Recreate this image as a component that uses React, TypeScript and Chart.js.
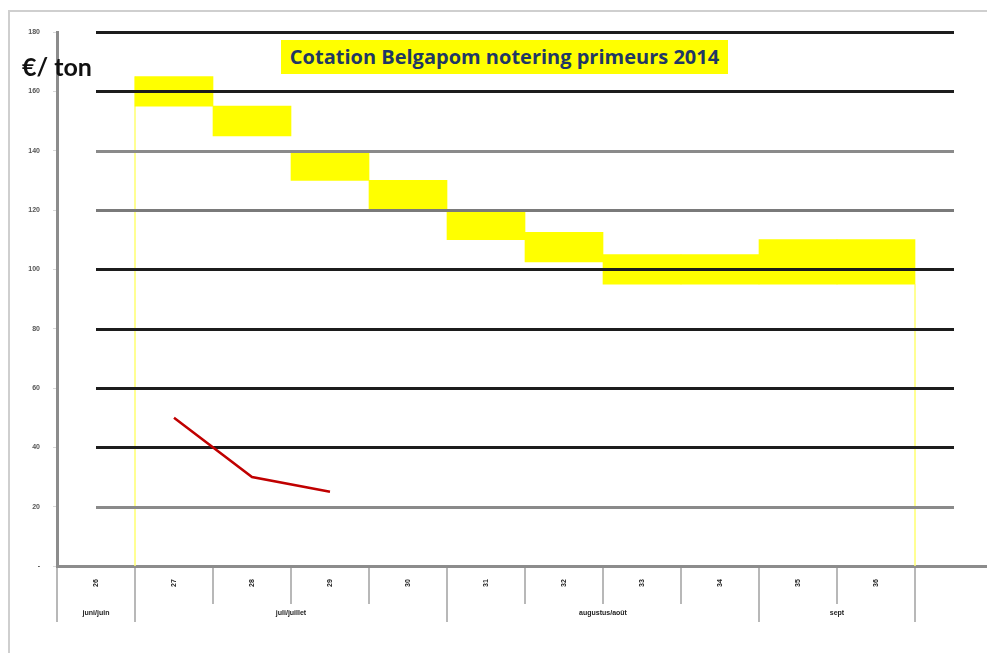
import React, { useEffect, useRef } from "react";
import { Chart, registerables } from "chart.js";

Chart.register(...registerables);

const weeks = ["26", "27", "28", "29", "30", "31", "32", "33", "34", "35", "36", ""];
const priceLow = [null, 155, 145, 130, 120, 110, 102.5, 95, 95, 95, 95, null];
const priceHigh = [null, 165, 155, 140, 130, 120, 112.5, 105, 105, 110, 110, null];
const redSeries = [null, 50, 30, 25, null, null, null, null, null, null, null, null];
const gridValues = [20, 40, 60, 80, 100, 120, 140, 160, 180];
const gridColors = ["#8a8a8a", "#1c1c1c", "#1c1c1c", "#1c1c1c", "#1c1c1c", "#7a7a7a", "#8a8a8a", "#1c1c1c", "#1c1c1c"];
const monthLabels = ["juni/juin", "juli/juillet", "augustus/août", "sept"];
const monthSpans = [1, 4, 4, 2];
const titleText = "Cotation Belgapom notering primeurs 2014";
const unitText = "€/ ton";

const FONT = "'Liberation Sans', Arial, sans-serif";

const customPlugin = {
  id: "custom",
  beforeDatasetsDraw(chart: any) {
    const { ctx, scales } = chart;
    const x = scales.x;
    const y = scales.y;
    const w = (x.right - x.left) / weeks.length;
    ctx.save();
    ctx.strokeStyle = "#ffff70";
    ctx.lineWidth = 1.5;
    const first = priceLow.findIndex((v) => v !== null);
    const last = priceLow.length - 1 - [...priceLow].reverse().findIndex((v) => v !== null);
    const x1 = Math.round(x.left + first * w);
    const x2 = Math.round(x.left + (last + 1) * w);
    ctx.beginPath();
    ctx.moveTo(x1, y.getPixelForValue(priceHigh[first] as number));
    ctx.lineTo(x1, y.getPixelForValue(0));
    ctx.moveTo(x2, y.getPixelForValue(priceLow[last] as number));
    ctx.lineTo(x2, y.getPixelForValue(0));
    ctx.stroke();
    ctx.restore();
  },
  afterDatasetDraw(chart: any, args: any) {
    if (args.index !== 0) return;
    const { ctx, scales } = chart;
    const x = scales.x;
    const y = scales.y;
    const xs = x.getPixelForValue(0);
    const xe = x.getPixelForValue(weeks.length - 1);
    ctx.save();
    ctx.lineWidth = 3;
    gridValues.forEach((v, i) => {
      const py = Math.round(y.getPixelForValue(v)) + 0.5;
      ctx.strokeStyle = gridColors[i];
      ctx.beginPath();
      ctx.moveTo(xs, py);
      ctx.lineTo(xe, py);
      ctx.stroke();
    });
    ctx.restore();
  },
  afterDraw(chart: any) {
    const { ctx, scales } = chart;
    const x = scales.x;
    const base = x.top;
    const w = (x.right - x.left) / weeks.length;
    ctx.save();
    const groupEdges = new Set<number>();
    let acc = 0;
    groupEdges.add(0);
    monthSpans.forEach((s) => {
      acc += s;
      groupEdges.add(acc);
    });
    ctx.strokeStyle = "#a0a0a0";
    ctx.lineWidth = 1.5;
    for (let i = 0; i <= weeks.length; i++) {
      const px = Math.round(x.left + i * w);
      const long = groupEdges.has(i);
      ctx.beginPath();
      ctx.moveTo(px, base + 2);
      ctx.lineTo(px, long ? base + 56 : base + 38);
      ctx.stroke();
    }
    ctx.fillStyle = "#222";
    ctx.font = `bold 7px ${FONT}`;
    ctx.textAlign = "center";
    ctx.textBaseline = "middle";
    weeks.forEach((lbl, i) => {
      if (!lbl) return;
      const px = x.getPixelForValue(i);
      ctx.save();
      ctx.translate(px, base + 17);
      ctx.rotate(-Math.PI / 2);
      ctx.fillText(lbl, 0, 0);
      ctx.restore();
    });
    acc = 0;
    monthLabels.forEach((lbl, i) => {
      const start = acc;
      acc += monthSpans[i];
      const cx = x.left + ((start + acc) / 2) * w;
      ctx.fillText(lbl, cx, base + 47);
    });
    ctx.restore();
  },
};

export default function App() {
  const canvasRef = useRef<HTMLCanvasElement | null>(null);

  useEffect(() => {
    if (!canvasRef.current) return;
    const chart = new Chart(canvasRef.current, {
      type: "bar",
      data: {
        labels: weeks,
        datasets: [
          {
            type: "bar",
            data: priceLow.map((l, i) => (l === null ? null : [l, priceHigh[i] as number])) as any,
            backgroundColor: "#ffff00",
            borderWidth: 0,
            barPercentage: 1,
            categoryPercentage: 1,
            order: 2,
          },
          {
            type: "line",
            data: redSeries as any,
            borderColor: "#c00000",
            borderWidth: 2.5,
            pointRadius: 0,
            spanGaps: false,
            order: 1,
          } as any,
        ],
      },
      options: {
        responsive: false,
        animation: false,
        devicePixelRatio: 1,
        layout: { padding: { left: 0, top: 32, right: 7, bottom: 0 } },
        plugins: {
          legend: { display: false },
          tooltip: { enabled: false },
          title: { display: false },
        },
        scales: {
          x: {
            offset: true,
            ticks: { display: false },
            grid: { display: false, drawTicks: false },
            border: { display: true, color: "#8c8c8c", width: 3 },
            afterFit: (s: any) => {
              s.height = 87;
            },
          },
          y: {
            min: 0,
            max: 180,
            ticks: {
              stepSize: 20,
              padding: 13,
              color: "#555",
              font: { size: 7, weight: "bold", family: FONT },
              callback: (v: any) => (v === 0 ? "-" : String(v)),
            },
            grid: { drawOnChartArea: false, drawTicks: true, tickLength: 4, color: "#d8d8d8" },
            border: { display: true, color: "#8c8c8c", width: 3 },
            afterFit: (s: any) => {
              s.width = 57;
            },
          },
        },
      },
      plugins: [customPlugin],
    } as any);
    return () => chart.destroy();
  }, []);

  return (
    <div style={{ position: "fixed", left: 0, top: 0, width: 987, height: 653, overflow: "hidden", background: "#fff" }}>
      <div
        style={{
          position: "absolute",
          left: 8,
          top: 10,
          width: 1100,
          height: 900,
          border: "2px solid #cfcfcf",
        }}
      />
      <canvas ref={canvasRef} width={1000} height={653} style={{ position: "absolute", left: 0, top: 0, display: "block" }} />
      <div
        style={{
          position: "absolute",
          left: 281,
          top: 40,
          width: 447,
          height: 34,
          background: "#ffff00",
          color: "#1f3864",
          fontFamily: "'Open Sans', Lato, sans-serif",
          fontWeight: 700,
          fontSize: 20,
          lineHeight: "34px",
          textAlign: "center",
          whiteSpace: "nowrap",
        }}
      >
        {titleText}
      </div>
      <div
        style={{
          position: "absolute",
          left: 22,
          top: 52,
          fontFamily: "Lato, 'Open Sans', sans-serif",
          fontWeight: 700,
          fontSize: 25,
          lineHeight: "28px",
          color: "#111",
          whiteSpace: "nowrap",
        }}
      >
        {unitText}
      </div>
    </div>
  );
}
